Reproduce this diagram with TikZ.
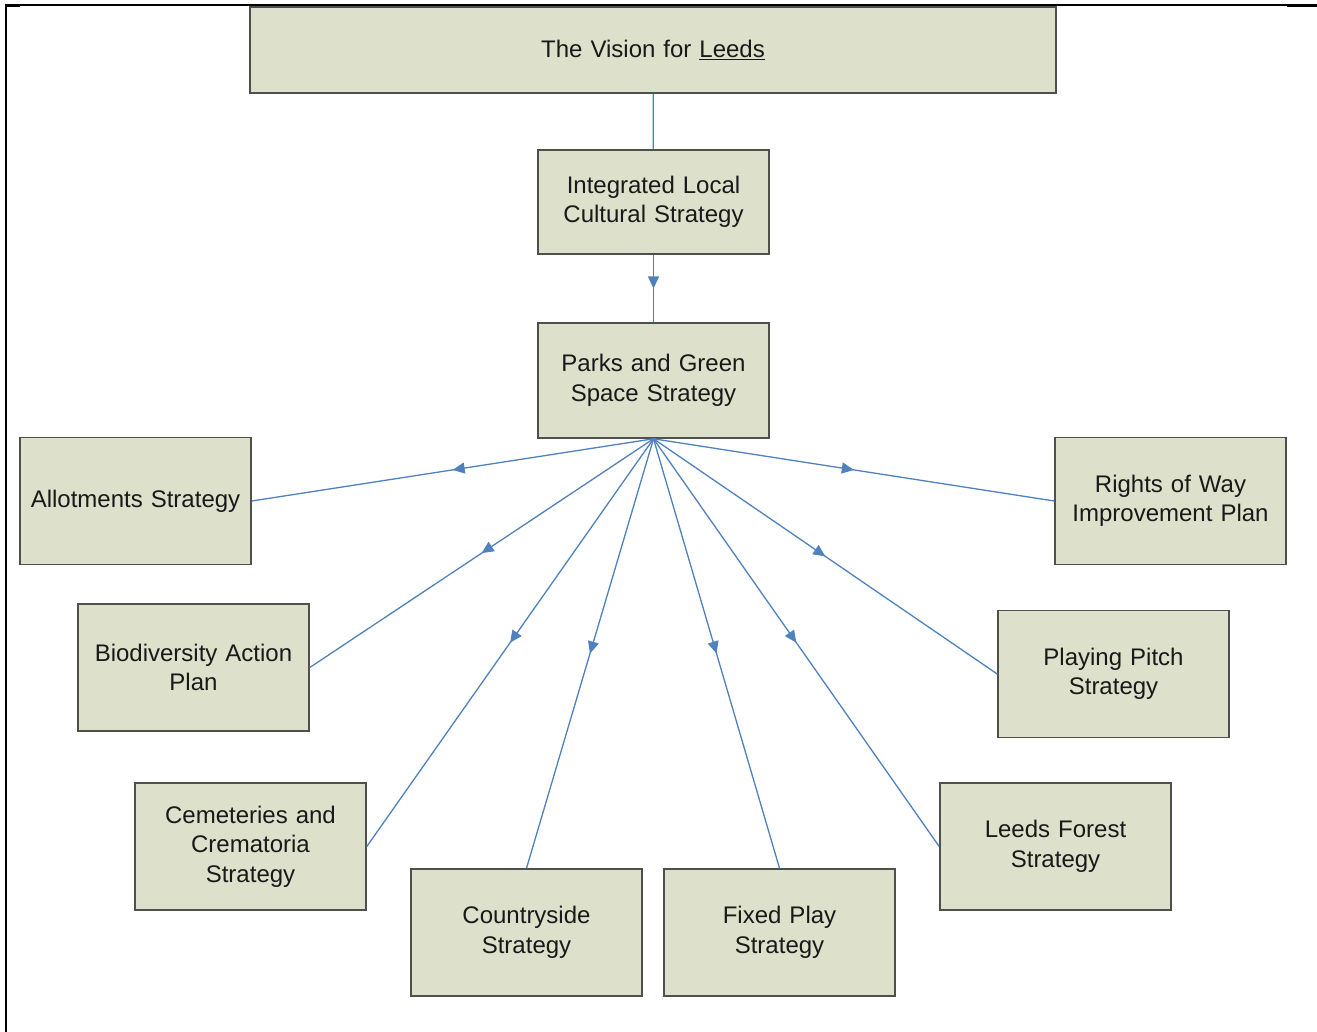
\documentclass[tikz,border=0pt]{standalone}
\usepackage{fontspec}
\setmainfont{Liberation Sans}
\usetikzlibrary{arrows.meta,decorations.markings}
\definecolor{boxfill}{RGB}{221,224,203}
\definecolor{boxline}{RGB}{78,80,76}
\definecolor{linkblue}{RGB}{79,129,189}
\begin{document}
\begin{tikzpicture}[x=1pt,y=-1pt,
  box/.style={draw=boxline,fill=boxfill,line width=1.6pt,text=black!90,
    minimum width=231pt,minimum height=127pt,text width=222pt,align=center,
    inner sep=0pt,font=\fontsize{24}{29.5}\selectfont},
  link/.style={draw=linkblue,line width=1.3pt},
  midarrow/.style={link,postaction={decorate},decoration={markings,
    mark=at position 0.5 with {\arrow[linkblue]{Triangle[length=12pt,width=11pt]}}}}]
\useasboundingbox (0,0) rectangle (1317,1032);
%frame
\draw[line width=2pt] (6,1032) -- (6,5) -- (1317,5);
\draw[line width=3pt] (6,5.5) -- (20,5.5) (1287,6) -- (1317,6);

\node[box,minimum width=806pt,minimum height=86pt,text width=780pt] (vision) at (653,50) {The Vision for \underline{Leeds}};
\node[box,minimum height=104pt] (ilcs) at (653.5,202) {Integrated Local\\Cultural Strategy};
\node[box,minimum height=115pt] (parks) at (653.5,380.5) {Parks and Green\\Space Strategy};
\node[box] (allot) at (135.5,501) {Allotments Strategy};
\node[box] (rights) at (1170.5,501) {Rights of Way\\Improvement Plan};
\node[box] (biodiv) at (193.5,667.5) {Biodiversity Action\\Plan};
\node[box] (pitch) at (1113.5,674) {Playing Pitch\\Strategy};
\node[box] (cemet) at (250.5,846.5) {Cemeteries and\\Crematoria\\Strategy};
\node[box] (forest) at (1055.5,846.5) {Leeds Forest\\Strategy};
\node[box] (country) at (526.5,932.5) {Countryside\\Strategy};
\node[box] (fixed) at (779.5,932.5) {Fixed Play\\Strategy};

\draw[link] (vision) -- (ilcs);
\draw[midarrow] (ilcs) -- (parks);
\draw[midarrow] (parks.south) -- (allot.east);
\draw[midarrow] (parks.south) -- (biodiv.east);
\draw[midarrow] (parks.south) -- (cemet.east);
\draw[midarrow] (parks.south) -- (country.north);
\draw[midarrow] (parks.south) -- (fixed.north);
\draw[midarrow] (parks.south) -- (forest.west);
\draw[midarrow] (parks.south) -- (pitch.west);
\draw[midarrow] (parks.south) -- (rights.west);
\end{tikzpicture}
\end{document}
